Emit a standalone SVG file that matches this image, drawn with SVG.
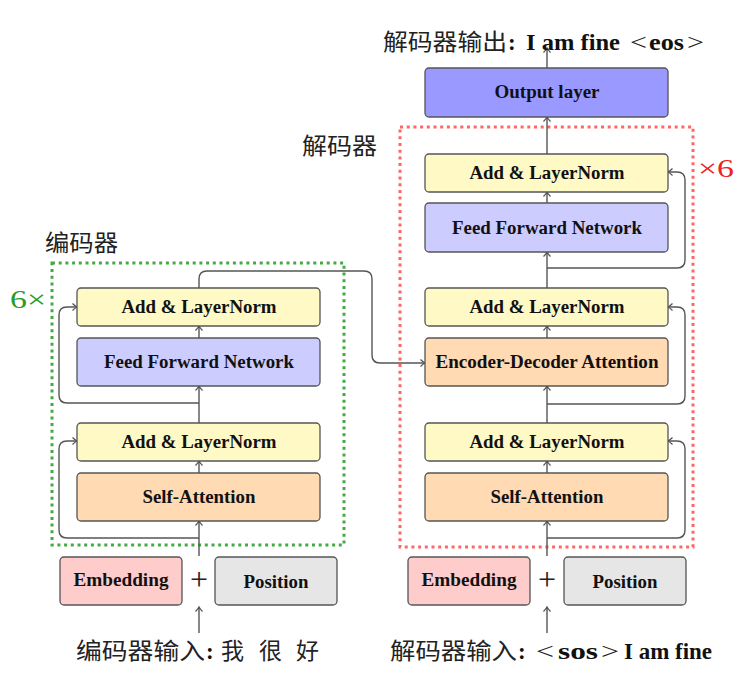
<svg xmlns="http://www.w3.org/2000/svg" width="741" height="675" viewBox="0 0 741 675">
<style>
.box{stroke:#555;stroke-width:1.3}
.ln{fill:#fff9c6}.ffn{fill:#ccccff}.att{fill:#ffdab3}.out{fill:#9999ff}.emb{fill:#ffcccc}.pos{fill:#e6e6e6}
.lbl{font-family:"Liberation Serif","Noto Sans CJK SC",serif;font-weight:bold;font-size:18.5px;fill:#111;text-anchor:middle}
.cn{font-family:"Liberation Serif","Noto Sans CJK SC",serif;font-size:23px;fill:#222}
.b{font-weight:bold;fill:#111}
.c{fill:none;stroke:#555;stroke-width:1.4}
</style>
<defs>
<marker id="ar" viewBox="-6 -5 8 10" markerWidth="8" markerHeight="10" refX="0" refY="0" orient="auto" markerUnits="userSpaceOnUse">
<path d="M-4.5,-3.5 Q-2,-1 0,0 Q-2,1 -4.5,3.5" fill="none" stroke="#555" stroke-width="1.3"/>
</marker>
</defs>

<g id="encoder-frame">
<rect x="52" y="263" width="292" height="282" fill="none" stroke="#44aa44" stroke-width="3" stroke-dasharray="3 3.7"/>
<text class="cn" x="45" y="251" textLength="73" lengthAdjust="spacingAndGlyphs">编码器</text>
<text x="10" y="308" font-family="Liberation Serif, serif" font-size="25" fill="#2a9a2a" textLength="36" lengthAdjust="spacingAndGlyphs">6×</text>
</g>
<g id="decoder-frame">
<rect x="400" y="127" width="293" height="420" fill="none" stroke="#ff6666" stroke-width="3" stroke-dasharray="3 3.7"/>
<text class="cn" x="302" y="154" textLength="75" lengthAdjust="spacingAndGlyphs">解码器</text>
<text x="698" y="177" font-family="Liberation Serif, serif" font-size="25" fill="#ee2222" textLength="36" lengthAdjust="spacingAndGlyphs">×6</text>
</g>

<g id="connectors">
<path class="c" d="M199,556 V521" marker-end="url(#ar)"/>
<path class="c" d="M199,473 V461" marker-end="url(#ar)"/>
<path class="c" d="M199,423 V386" marker-end="url(#ar)"/>
<path class="c" d="M199,338 V326" marker-end="url(#ar)"/>
<path class="c" d="M199,288 V279 Q199,271 207,271 H364 Q372,271 372,279 V355 Q372,363 380,363 H425" marker-end="url(#ar)"/>
<path class="c" d="M199,538 H67 Q59,538 59,530 V449 Q59,441 67,441 H77" marker-end="url(#ar)"/>
<path class="c" d="M199,403 H67 Q59,403 59,395 V315 Q59,307 67,307 H77" marker-end="url(#ar)"/>
<path class="c" d="M199,633 V607" marker-end="url(#ar)"/>
<path class="c" d="M547,556 V521" marker-end="url(#ar)"/>
<path class="c" d="M547,473 V461" marker-end="url(#ar)"/>
<path class="c" d="M547,423 V386" marker-end="url(#ar)"/>
<path class="c" d="M547,338 V326" marker-end="url(#ar)"/>
<path class="c" d="M547,288 V252" marker-end="url(#ar)"/>
<path class="c" d="M547,203 V192" marker-end="url(#ar)"/>
<path class="c" d="M547,154 V117" marker-end="url(#ar)"/>
<path class="c" d="M547,68 V48" marker-end="url(#ar)"/>
<path class="c" d="M547,538 H677 Q685,538 685,530 V449 Q685,441 677,441 H668" marker-end="url(#ar)"/>
<path class="c" d="M547,404 H677 Q685,404 685,396 V315 Q685,307 677,307 H668" marker-end="url(#ar)"/>
<path class="c" d="M547,268 H677 Q685,268 685,260 V180 Q685,172 677,172 H668" marker-end="url(#ar)"/>
<path class="c" d="M547,633 V607" marker-end="url(#ar)"/>
</g>

<g id="enc-addnorm2"><rect class="box ln" x="77" y="288" width="243" height="38" rx="4"/><text class="lbl" x="199" y="313" textLength="155" lengthAdjust="spacingAndGlyphs">Add &amp; LayerNorm</text></g>
<g id="enc-ffn"><rect class="box ffn" x="77" y="338" width="243" height="48" rx="4"/><text class="lbl" x="199" y="368" textLength="190" lengthAdjust="spacingAndGlyphs">Feed Forward Network</text></g>
<g id="enc-addnorm1"><rect class="box ln" x="77" y="423" width="243" height="38" rx="4"/><text class="lbl" x="199" y="448" textLength="155" lengthAdjust="spacingAndGlyphs">Add &amp; LayerNorm</text></g>
<g id="enc-selfatt"><rect class="box att" x="77" y="473" width="243" height="48" rx="4"/><text class="lbl" x="199" y="503" textLength="113" lengthAdjust="spacingAndGlyphs">Self-Attention</text></g>

<g id="dec-output"><rect class="box out" x="425" y="68" width="243" height="49" rx="4"/><text class="lbl" x="547" y="98" textLength="105" lengthAdjust="spacingAndGlyphs">Output layer</text></g>
<g id="dec-addnorm3"><rect class="box ln" x="425" y="154" width="243" height="38" rx="4"/><text class="lbl" x="547" y="179" textLength="155" lengthAdjust="spacingAndGlyphs">Add &amp; LayerNorm</text></g>
<g id="dec-ffn"><rect class="box ffn" x="425" y="203" width="243" height="49" rx="4"/><text class="lbl" x="547" y="234" textLength="190" lengthAdjust="spacingAndGlyphs">Feed Forward Network</text></g>
<g id="dec-addnorm2"><rect class="box ln" x="425" y="288" width="243" height="38" rx="4"/><text class="lbl" x="547" y="313" textLength="155" lengthAdjust="spacingAndGlyphs">Add &amp; LayerNorm</text></g>
<g id="dec-encdecatt"><rect class="box att" x="425" y="338" width="243" height="48" rx="4"/><text class="lbl" x="547" y="368" textLength="223" lengthAdjust="spacingAndGlyphs">Encoder-Decoder Attention</text></g>
<g id="dec-addnorm1"><rect class="box ln" x="425" y="423" width="243" height="38" rx="4"/><text class="lbl" x="547" y="448" textLength="155" lengthAdjust="spacingAndGlyphs">Add &amp; LayerNorm</text></g>
<g id="dec-selfatt"><rect class="box att" x="425" y="473" width="243" height="48" rx="4"/><text class="lbl" x="547" y="503" textLength="113" lengthAdjust="spacingAndGlyphs">Self-Attention</text></g>

<g id="enc-embedding"><rect class="box emb" x="60" y="557" width="122" height="48" rx="4"/><text class="lbl" x="121" y="586" font-size="19" textLength="95" lengthAdjust="spacingAndGlyphs">Embedding</text></g>
<g id="enc-plus"><text x="199" y="590" font-family="Liberation Serif, serif" font-size="32" fill="#222" text-anchor="middle">+</text></g>
<g id="enc-position"><rect class="box pos" x="215" y="557" width="122" height="48" rx="4"/><text class="lbl" x="276" y="588" font-size="19" textLength="65" lengthAdjust="spacingAndGlyphs">Position</text></g>
<g id="dec-embedding"><rect class="box emb" x="408" y="557" width="122" height="48" rx="4"/><text class="lbl" x="469" y="586" font-size="19" textLength="95" lengthAdjust="spacingAndGlyphs">Embedding</text></g>
<g id="dec-plus"><text x="547" y="590" font-family="Liberation Serif, serif" font-size="32" fill="#222" text-anchor="middle">+</text></g>
<g id="dec-position"><rect class="box pos" x="564" y="557" width="122" height="48" rx="4"/><text class="lbl" x="625" y="588" font-size="19" textLength="65" lengthAdjust="spacingAndGlyphs">Position</text></g>

<g id="enc-input">
<text class="cn" x="76" y="659" textLength="129" lengthAdjust="spacingAndGlyphs">编码器输入</text>
<text class="cn b" x="206" y="659">:</text>
<text class="cn" x="221" y="659">我</text>
<text class="cn" x="259" y="659">很</text>
<text class="cn" x="296" y="659">好</text>
</g>
<g id="dec-input">
<text class="cn" x="390" y="659" textLength="127" lengthAdjust="spacingAndGlyphs">解码器输入</text>
<text class="cn b" x="518" y="659">:</text>
<text class="cn" x="536" y="659" textLength="18" lengthAdjust="spacingAndGlyphs">&lt;</text>
<text class="cn b" x="558" y="659" textLength="40" lengthAdjust="spacingAndGlyphs">sos</text>
<text class="cn" x="601" y="659" textLength="18" lengthAdjust="spacingAndGlyphs">&gt;</text>
<text class="cn b" x="624" y="659" textLength="88" lengthAdjust="spacingAndGlyphs">I am fine</text>
</g>
<g id="dec-output-text">
<text class="cn" x="383" y="50" textLength="124" lengthAdjust="spacingAndGlyphs">解码器输出</text>
<text class="cn b" x="508" y="50">:</text>
<text class="cn b" x="526" y="50" textLength="94" lengthAdjust="spacingAndGlyphs">I am fine</text>
<text class="cn" x="630" y="50" textLength="17" lengthAdjust="spacingAndGlyphs">&lt;</text>
<text class="cn b" x="649" y="50" textLength="35" lengthAdjust="spacingAndGlyphs">eos</text>
<text class="cn" x="687" y="50" textLength="17" lengthAdjust="spacingAndGlyphs">&gt;</text>
</g>
</svg>
